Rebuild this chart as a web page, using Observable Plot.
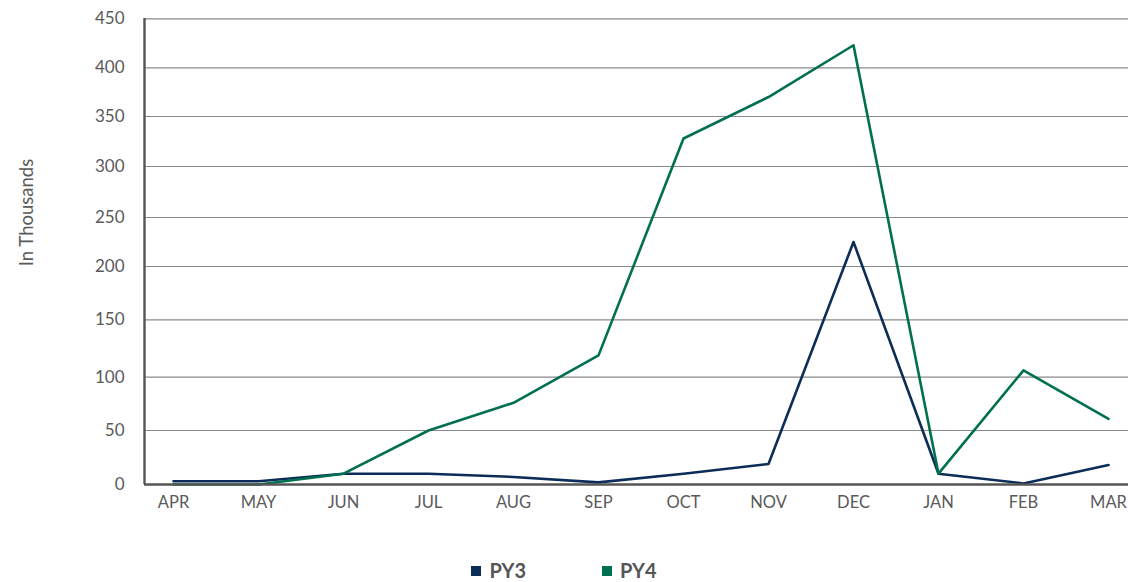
<!DOCTYPE html>
<html><head><meta charset="utf-8">
<script src="https://cdn.jsdelivr.net/npm/d3@7"></script>
<script src="https://cdn.jsdelivr.net/npm/@observablehq/plot@0.6"></script>
<style>
body{margin:0;background:#fff;font-family:Lato,"Open Sans",sans-serif;}
#legend{display:flex;justify-content:center;gap:76px;height:37px;align-items:center;padding-top:13px;}
.item{display:flex;align-items:center;font-weight:700;font-size:20px;color:#555;}
.sw{width:10px;height:10px;margin-right:8px;display:inline-block;margin-top:3px;}
</style></head><body><div id="chart"></div><div id="legend"></div>
<script>
const months = ["APR","MAY","JUN","JUL","AUG","SEP","OCT","NOV","DEC","JAN","FEB","MAR"];
const py3 = [3,3,10,10,7,2,10,19,225,10,1,18];
const py4 = [0,0,10,50,76,119,328,370,423,10,106,61];
const yTicks = [0,50,100,150,200,250,300,350,400,450];
const seriesNames = ["PY3","PY4"];
const colors = ["#0b2d57","#007050"];

const data = months.flatMap((m,i)=>[
  {month:m,value:py3[i],series:"PY3"},
  {month:m,value:py4[i],series:"PY4"}
]);

// the reference's value axis is uneven; reproduce it as a piecewise transform
const tickPix = [484,430,376.7,319.3,266,217,166,116,67.3,18.3];
const pix = d3.scaleLinear().domain(yTicks).range(tickPix);
const piece = v => (484 - pix(v)) / (484 - 18.3) * 450;

const H = 538;
const chart = Plot.plot({
  width:1128, height:H,
  marginLeft:144, marginRight:0, marginTop:18, marginBottom:H-484,
  style:{fontFamily:"Lato, 'Open Sans', sans-serif", fontSize:"16.5px", color:"#5a5a5a", background:"#fff"},
  x:{type:"point", domain:months, padding:0, insetLeft:29, insetRight:20, label:null, tickSize:0, tickPadding:12},
  y:{type:"linear", domain:[0,450], range:[484,18.3], transform:piece, axis:null},
  color:{domain:seriesNames, range:colors},
  marks:[
    Plot.ruleY(yTicks.filter(d=>d>0), {stroke:"#8a8a8a", strokeWidth:1.2}),
    Plot.text(yTicks, {y:d=>d, text:d=>String(d), frameAnchor:"left", textAnchor:"end", dx:-20, fontSize:17, fill:"#5a5a5a"}),
    Plot.line(data, {x:"month", y:"value", z:"series", stroke:"series", strokeWidth:2.6}),
    Plot.ruleY([0], {stroke:"#555", strokeWidth:2.4}),
    Plot.ruleX([months[0]], {dx:-29, stroke:"#555", strokeWidth:2.4}),
    Plot.text(["In Thousands"], {frameAnchor:"left", textAnchor:"middle", rotate:-90, dx:-117, dy:-39, fontSize:18.5, fill:"#5a5a5a"})
  ]
});
document.getElementById("chart").appendChild(chart);

const leg = document.getElementById("legend");
seriesNames.forEach((s,i)=>{
  const it = document.createElement("div"); it.className="item";
  const sw = document.createElement("span"); sw.className="sw"; sw.style.background=colors[i];
  it.appendChild(sw); it.appendChild(document.createTextNode(s));
  leg.appendChild(it);
});
</script></body></html>
